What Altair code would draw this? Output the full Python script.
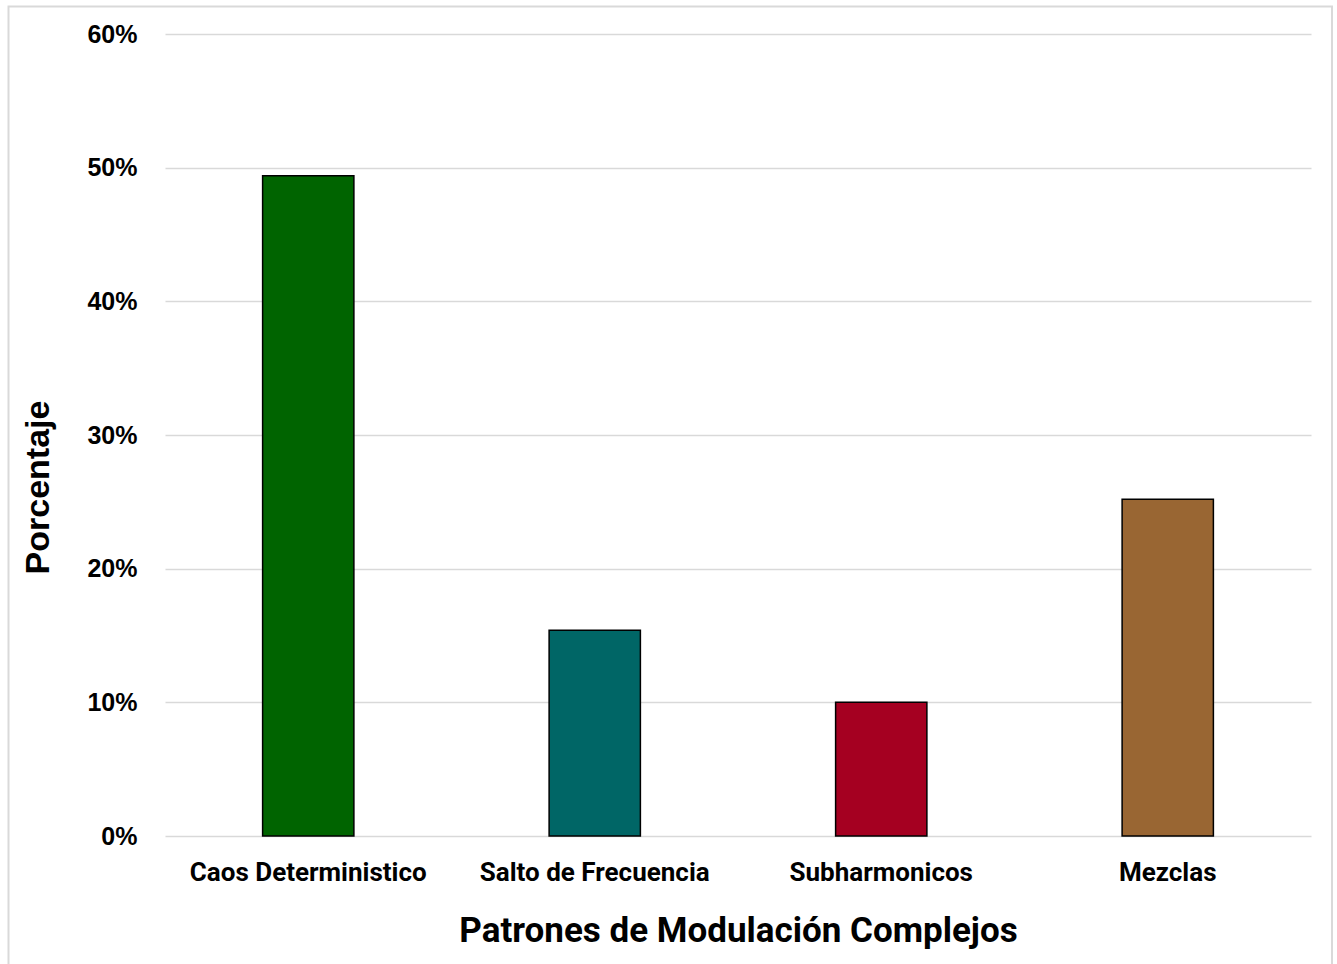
import altair as alt
import pandas as pd

# Share of each complex modulation pattern (percent)
categories = ["Caos Deterministico", "Salto de Frecuencia", "Subharmonicos", "Mezclas"]
percentages = [49.4, 15.4, 10.0, 25.2]
bar_colors = ["#006400", "#006666", "#A50021", "#996633"]

df = pd.DataFrame({"patron": categories, "pct": [p / 100 for p in percentages]})

W, H = 1146, 802

bars = alt.Chart(df).mark_bar(
    width=alt.RelativeBandSize(0.354),
    stroke="black",
    strokeWidth=1.5,
).encode(
    x=alt.X(
        "patron:N",
        sort=categories,
        title="Patrones de Modulación Complejos",
        axis=alt.Axis(
            labelAngle=0,
            labelFont="Roboto",
            labelFontWeight="bold",
            labelFontSize=26,
            labelColor="#000000",
            labelPadding=23,
            labelLimit=0,
            ticks=False,
            domain=False,
            titleFont="Roboto",
            titleFontWeight="bold",
            titleFontSize=35,
            titleColor="#000000",
            titleBaseline="middle",
            titleY=94,
        ),
    ),
    y=alt.Y(
        "pct:Q",
        title="Porcentaje",
        scale=alt.Scale(domain=[0, 0.6], nice=False),
        axis=alt.Axis(
            format=".0%",
            values=[0, 0.1, 0.2, 0.3, 0.4, 0.5, 0.6],
            labelFont="Liberation Sans",
            labelFontWeight="bold",
            labelFontSize=25,
            labelColor="#000000",
            labelPadding=28,
            ticks=False,
            domain=False,
            grid=True,
            gridColor="#D9D9D9",
            gridWidth=1.5,
            titleFont="Liberation Sans",
            titleFontWeight="bold",
            titleFontSize=34,
            titleColor="#000000",
            titleAngle=270,
            titleAlign="center",
            titleBaseline="middle",
            titleX=-127,
            titleY=453,
        ),
    ),
    color=alt.Color(
        "patron:N",
        scale=alt.Scale(domain=categories, range=bar_colors),
        legend=None,
    ),
)

# Light grey frame around the whole chart
frame = alt.Chart(pd.DataFrame({"k": [0]})).mark_rect(
    fill=None, stroke="#D9D9D9", strokeWidth=2, clip=False
).encode(
    x=alt.value(-156.5),
    x2=alt.value(1167),
    y=alt.value(-27.5),
    y2=alt.value(980),
)

chart = alt.layer(frame, bars).properties(
    width=W,
    height=H,
    padding={"left": 165, "top": 34, "right": 26, "bottom": 128},
    autosize=alt.AutoSizeParams(type="none"),
    background="white",
).configure_view(stroke=None)

chart.save("out.html", embed_options={"renderer": "svg", "actions": False})
